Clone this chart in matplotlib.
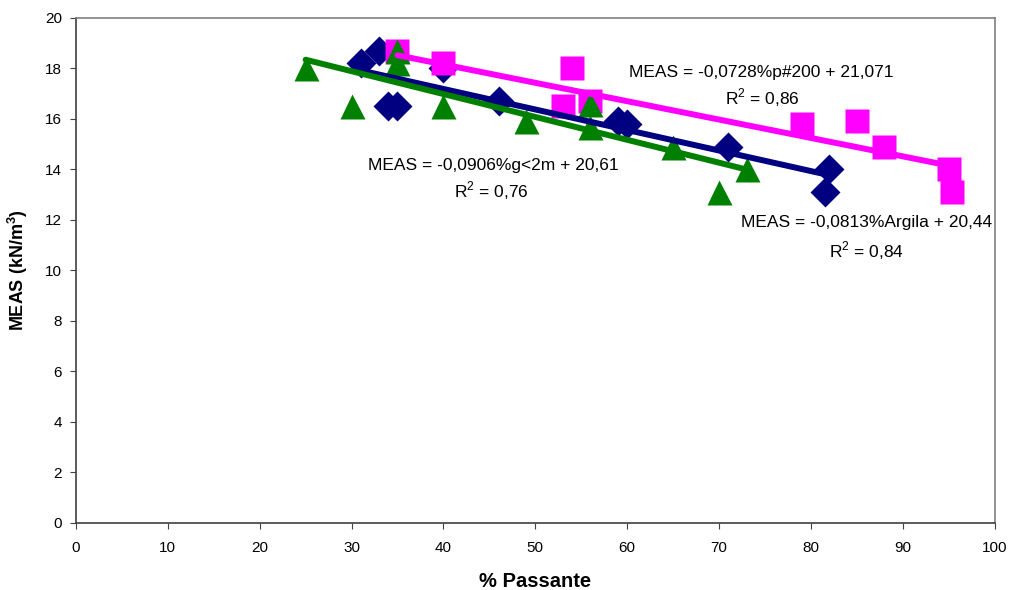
import matplotlib
matplotlib.use('Agg')
import matplotlib.pyplot as plt
import numpy as np

plt.rcParams['font.family'] = ['Liberation Sans', 'DejaVu Sans']
plt.rcParams['mathtext.fontset'] = 'custom'
plt.rcParams['mathtext.rm'] = 'Liberation Sans'
plt.rcParams['mathtext.bf'] = 'Liberation Sans:bold'

# % Argila (blue diamonds)
argila_x = [31, 33, 34, 35, 40, 46, 59, 60, 71, 82, 81.5]
argila_y = [18.2, 18.7, 16.5, 16.5, 18.0, 16.7, 15.9, 15.8, 14.9, 14.0, 13.1]
# % p#200 (magenta squares)
p200_x = [35, 40, 54, 53, 56, 79, 85, 88, 95, 95.4]
p200_y = [18.7, 18.2, 18.0, 16.5, 16.7, 15.8, 15.9, 14.9, 14.0, 13.1]
# % g<2m (green triangles)
g2m_x = [25, 30, 35, 35, 40, 49, 56, 56, 65, 73, 70]
g2m_y = [18.0, 16.5, 18.7, 18.2, 16.5, 15.9, 16.6, 15.7, 14.9, 14.0, 13.1]

# trendlines as written on the chart
fit_argila = (-0.0813, 20.44)
fit_p200 = (-0.0728, 21.071)
fit_g2m = (-0.0906, 20.61)

fig = plt.figure(figsize=(10.17, 5.9), dpi=100)
ax = fig.add_axes([0.0747, 0.1136, 0.9033, 0.856])

ax.plot(argila_x, argila_y, 'D', color='#000080', ms=15, mec='none', zorder=2)
ax.plot(p200_x, p200_y, 's', color='#FF00FF', ms=17, mec='none', zorder=3)
ax.plot(g2m_x, g2m_y, '^', color='#008000', ms=18, mec='none', zorder=4)

for xs, (m, b), c in [(argila_x, fit_argila, '#000080'),
                      (p200_x, fit_p200, '#FF00FF'),
                      (g2m_x, fit_g2m, '#008000')]:
    xx = np.array([min(xs), max(xs)])
    ax.plot(xx, m * xx + b, '-', color=c, lw=4.3, solid_capstyle='round', zorder=5)

fs = 12.5
ax.text(74.6, 17.85, 'MEAS = -0,0728%p#200 + 21,071', ha='center', va='center', fontsize=fs)
ax.text(74.7, 16.85, 'R$^2$ = 0,86', ha='center', va='center', fontsize=fs)
ax.text(45.4, 14.15, 'MEAS = -0,0906%g<2m + 20,61', ha='center', va='center', fontsize=fs)
ax.text(45.2, 13.15, 'R$^2$ = 0,76', ha='center', va='center', fontsize=fs)
ax.text(86.1, 11.88, 'MEAS = -0,0813%Argila + 20,44', ha='center', va='center', fontsize=fs)
ax.text(86.1, 10.8, 'R$^2$ = 0,84', ha='center', va='center', fontsize=fs)

ax.set_xlim(0, 100)
ax.set_ylim(0, 20)
ax.set_xticks(np.arange(0, 101, 10))
ax.set_yticks(np.arange(0, 21, 2))
ax.tick_params(direction='out', length=4, labelsize=11, color='#404040')
ax.tick_params(axis='x', pad=9)
ax.tick_params(axis='y', pad=6)
for s in ax.spines.values():
    s.set_color('#808080')
    s.set_linewidth(1.2)
ax.spines['left'].set_color('#404040')
ax.spines['bottom'].set_color('#404040')

ax.set_xlabel('% Passante', fontsize=14.5, fontweight='bold', labelpad=12)
ax.set_ylabel(r'MEAS (kN/m$^{\mathbf{3}}$)', fontsize=13, fontweight='bold', labelpad=11)

fig.savefig('out.png', dpi=100)
